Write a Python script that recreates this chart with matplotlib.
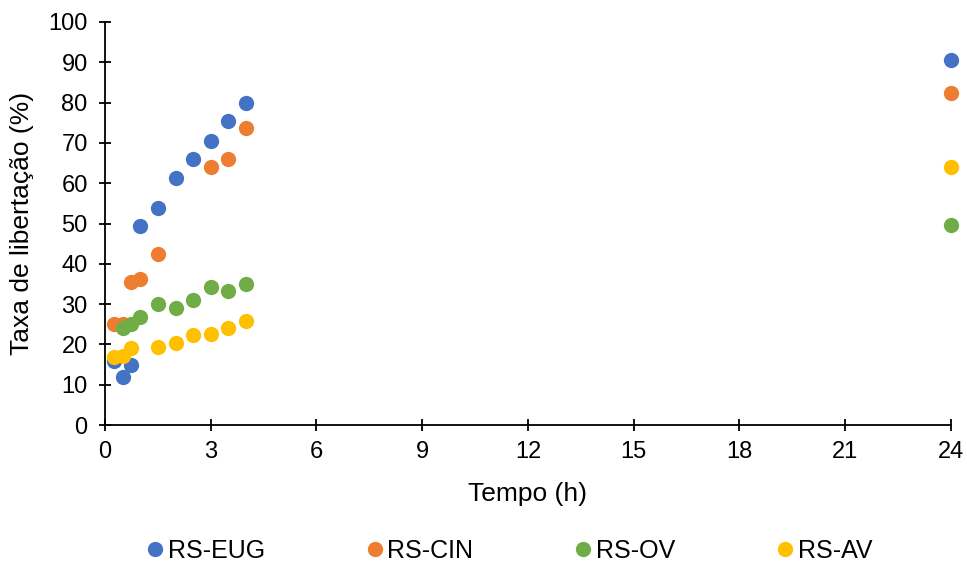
import numpy as np
import matplotlib.pyplot as plt

plt.rcParams['font.family'] = ['Liberation Sans', 'DejaVu Sans']

# release over time (h) for each formulation
t_eug = [0.25, 0.5, 0.75, 1, 1.5, 2, 2.5, 3, 3.5, 4, 24]
eug = [16.0, 11.8, 14.9, 49.4, 53.8, 61.3, 66.0, 70.5, 75.4, 79.9, 90.6]

t_cin = [0.25, 0.5, 0.75, 1, 1.5, 3, 3.5, 4, 24]
cin = [25.1, 25.1, 35.4, 36.2, 42.4, 64.0, 66.0, 73.7, 82.4]

t_ov = [0.5, 0.75, 1, 1.5, 2, 2.5, 3, 3.5, 4, 24]
ov = [24.1, 25.1, 26.8, 30.0, 29.0, 31.0, 34.2, 33.2, 35.0, 49.6]

t_av = [0.25, 0.5, 0.75, 1.5, 2, 2.5, 3, 3.5, 4, 24]
av = [16.9, 17.1, 19.1, 19.4, 20.4, 22.3, 22.6, 24.0, 25.8, 64.0]

series = [
    ("RS-EUG", t_eug, eug, "#4472C4"),
    ("RS-CIN", t_cin, cin, "#ED7D31"),
    ("RS-OV", t_ov, ov, "#70AD47"),
    ("RS-AV", t_av, av, "#FFC000"),
]

fig = plt.figure(figsize=(9.67, 5.63), dpi=100)
ax = fig.add_axes([0.1086, 0.245, 0.8748, 0.716])

for name, t, v, c in series:
    ax.plot(t, v, linestyle="none", marker="o", markersize=11,
            color=c, markeredgewidth=0, label=name, clip_on=False)

ax.set_xlim(0, 24)
ax.set_ylim(0, 100)
ax.set_xticks(np.arange(0, 25, 3))
ax.set_yticks(np.arange(0, 101, 10))
ax.tick_params(direction="inout", length=9, width=1.3, labelsize=17,
               colors="black")
ax.tick_params(axis="y", pad=8)
ax.tick_params(axis="x", pad=7)
for s in ["top", "right"]:
    ax.spines[s].set_visible(False)
for s in ["left", "bottom"]:
    ax.spines[s].set_linewidth(1.3)

ax.set_xlabel("Tempo (h)", fontsize=19, labelpad=14)
ax.set_ylabel("Taxa de libertação (%)", fontsize=19, labelpad=10)

fig.legend(loc="center", bbox_to_anchor=(0.526, 0.021), ncol=4, frameon=False,
           fontsize=18, handlelength=0.8, handletextpad=0.1,
           columnspacing=4.0, markerscale=1.0)

fig.savefig("out.png", dpi=100)
